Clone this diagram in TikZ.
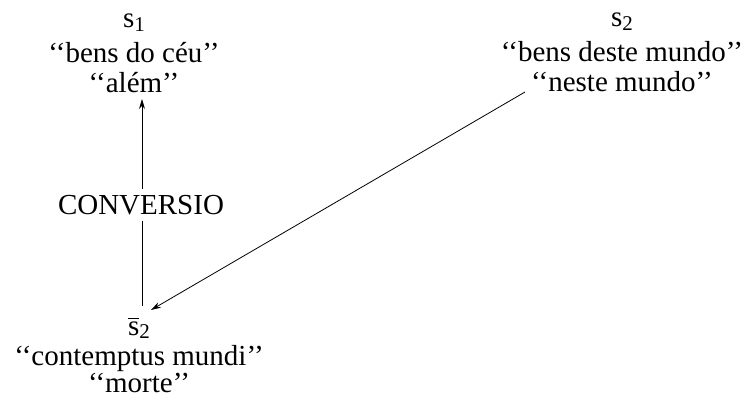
\documentclass[tikz,border=0pt]{standalone}
\usepackage{fontspec}
\setmainfont{Liberation Serif}
\usetikzlibrary{arrows.meta}
\newcommand\subnum[1]{\raisebox{-0.25ex}{\fontsize{21}{21}\selectfont #1}}
\newcommand\barred[1]{\vbox{\hrule height 0.8pt\kern2.5pt\hbox{#1}}}
\begin{document}
\begin{tikzpicture}[x=1pt,y=-1pt,
  lbl/.style={inner sep=0pt, anchor=base, align=center, font=\fontsize{29}{30}\selectfont},
  line/.style={line width=0.8pt},
  conn/.style={line width=0.8pt, -{Stealth[length=10pt,width=6pt]}}]
\useasboundingbox (0,0) rectangle (743,398);
% top left group (anchor = baseline of last line)
\node[lbl] (ceu) at (134,93) {s\subnum{1}\\[5pt] ‘‘bens do céu’’\\ ‘‘além’’};
% top right group
\node[lbl] (deste) at (622,92) {s\subnum{2}\\[5pt] ‘‘bens deste mundo’’\\ ‘‘neste mundo’’};
% bottom group
\node[lbl, font=\fontsize{29}{27}\selectfont] (mundi) at (139,392) {\barred{s}\subnum{2}\\[3pt] ‘‘contemptus mundi’’\\ ‘‘morte’’};
% conversio
\node[lbl, inner ysep=6pt] (conv) at (141,214) {CONVERSIO};
% connectors
\coordinate (vbot) at (142,306);
\coordinate (vtop) at (142,99);
\coordinate (dstart) at (525,92);
\coordinate (dend) at (151,310);
\draw[line] (vbot) -- (vbot |- conv.south);
\draw[conn] (vtop |- conv.north) -- (vtop);
\draw[conn] (dstart) -- (dend);
\end{tikzpicture}
\end{document}
